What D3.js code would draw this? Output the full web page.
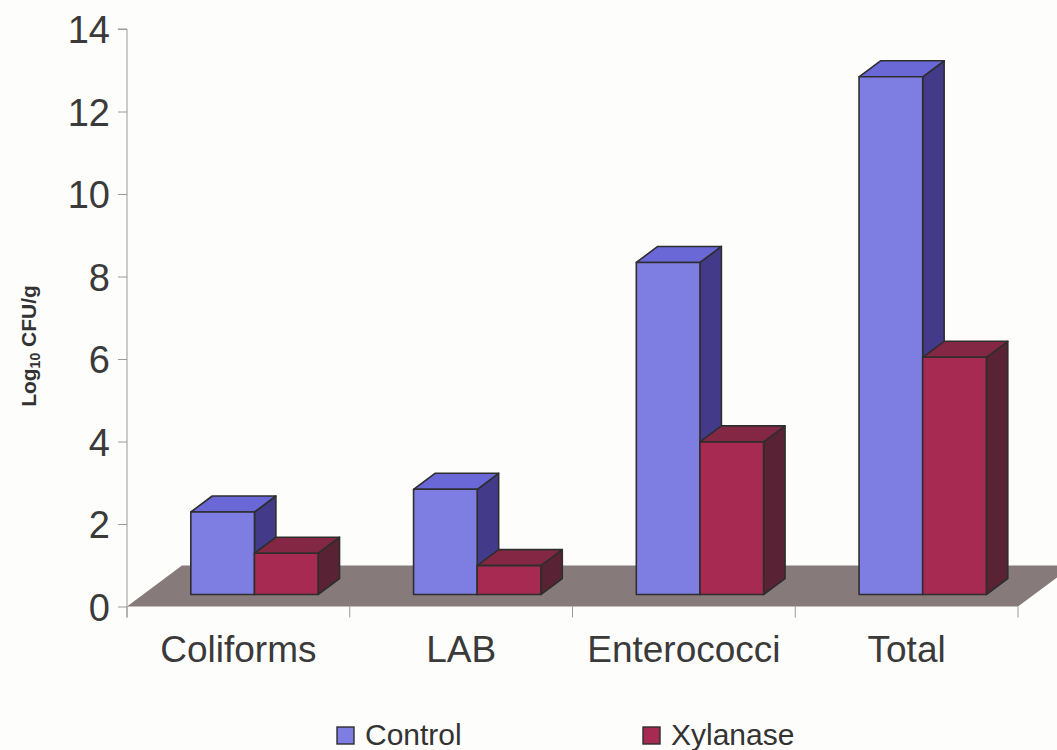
<!DOCTYPE html>
<html>
<head>
<meta charset="utf-8">
<script src="https://cdn.jsdelivr.net/npm/d3@7"></script>
<style>
  html, body { margin: 0; padding: 0; background: #fdfdfb; }
  svg { display: block; font-family: "Liberation Sans", Arial, sans-serif; }
</style>
</head>
<body>
<svg id="chart" width="1057" height="750"></svg>
<script>
// Bacterial counts (log10 CFU/g) by group
const categories = ["Coliforms", "LAB", "Enterococci", "Total"];
const seriesNames = ["Control", "Xylanase"];
const controlValues = [2.0, 2.55, 8.05, 12.55];
const xylanaseValues = [1.0, 0.7, 3.7, 5.75];
const yTicks = [0, 2, 4, 6, 8, 10, 12, 14];

(function draw() {
  const svg = d3.select("#chart");
  const W = 1057, H = 750;

  // plot frame (front plane)
  const plotLeft = 127, plotRight = 1018, plotTop = 29, plotBottom = 606.5;

  // oblique depth: the floor recedes floorDy px up and skew*floorDy px right
  const skew = 1.34;
  const floorDy = 41;
  const barStartDy = 12;   // columns sit this far behind the front edge
  const barDepthDy = 16;   // depth of each column

  const y = d3.scaleLinear().domain([0, 14]).range([plotBottom, plotTop]);
  const x = d3.scaleBand().domain(categories).range([plotLeft, plotRight]).paddingInner(0).paddingOuter(0);
  const bw = x.bandwidth() / 3.5;  // gap width 150%
  const xs = d3.scaleBand().domain(seriesNames).range([0.75 * bw, 2.75 * bw]);

  const palette = {
    Control:  { front: "#7e7ee2", top: "#6a68d6", side: "#433a8a" },
    Xylanase: { front: "#a62a52", top: "#842744", side: "#592235" }
  };

  svg.append("defs").append("clipPath").attr("id", "frame")
    .append("rect").attr("x", 0).attr("y", 0).attr("width", W).attr("height", H);

  // floor
  const fdx = skew * floorDy;
  svg.append("polygon")
    .attr("points", [
      [plotLeft, plotBottom], [plotRight, plotBottom],
      [plotRight + fdx, plotBottom - floorDy], [plotLeft + fdx, plotBottom - floorDy]
    ].map(p => p.join(",")).join(" "))
    .attr("fill", "#877a7a")
    .attr("clip-path", "url(#frame)");

  // y axis
  const yAxis = d3.axisLeft(y).tickValues(yTicks).tickSize(9).tickPadding(8).tickFormat(d3.format("d"));
  const gy = svg.append("g").attr("transform", `translate(${plotLeft},0)`).call(yAxis);
  gy.select(".domain").attr("stroke", "#9a9a9a").attr("d", `M-9,${plotTop}H0V${plotBottom + 11}`);
  gy.selectAll(".tick line").attr("stroke", "#9a9a9a");
  gy.selectAll(".tick text").attr("fill", "#3a3a3a").style("font-size", "38px")
    .attr("dy", "0.36em");

  // category boundary ticks
  const bounds = categories.map(c => x(c)).concat([plotRight]);
  svg.append("g").selectAll("line").data(bounds).join("line")
    .attr("x1", d => d).attr("x2", d => d)
    .attr("y1", plotBottom).attr("y2", plotBottom + 11)
    .attr("stroke", "#9a9a9a");

  // category labels
  svg.append("g").selectAll("text").data(categories).join("text")
    .attr("x", d => x(d) + x.bandwidth() / 2)
    .attr("y", 662)
    .attr("text-anchor", "middle")
    .attr("fill", "#3a3a3a")
    .style("font-size", "37px")
    .text(d => d);

  // columns
  const data = [];
  categories.forEach((c, i) => {
    data.push({ cat: c, series: "Control", value: controlValues[i] });
    data.push({ cat: c, series: "Xylanase", value: xylanaseValues[i] });
  });

  const bdx = skew * barDepthDy;
  const shiftX = skew * barStartDy;
  const baseY = plotBottom - barStartDy;

  const bars = svg.append("g").attr("stroke", "#2e2e2e").attr("stroke-width", 1.6).attr("stroke-linejoin", "round");
  data.forEach(d => {
    const x0 = x(d.cat) + xs(d.series) + shiftX;
    const x1 = x0 + xs.bandwidth();
    const h = y(0) - y(d.value);
    const yt = baseY - h;
    const c = palette[d.series];
    const g = bars.append("g");
    // right side
    g.append("polygon").attr("fill", c.side)
      .attr("points", [[x1, yt], [x1 + bdx, yt - barDepthDy], [x1 + bdx, baseY - barDepthDy], [x1, baseY]].map(p => p.join(",")).join(" "));
    // top
    g.append("polygon").attr("fill", c.top)
      .attr("points", [[x0, yt], [x0 + bdx, yt - barDepthDy], [x1 + bdx, yt - barDepthDy], [x1, yt]].map(p => p.join(",")).join(" "));
    // front
    g.append("rect").attr("fill", c.front)
      .attr("x", x0).attr("y", yt).attr("width", x1 - x0).attr("height", h);
  });

  // y axis title
  const title = svg.append("text")
    .attr("transform", `translate(36,346) rotate(-90)`)
    .attr("text-anchor", "middle")
    .attr("fill", "#333")
    .style("font-size", "21px")
    .style("font-weight", "bold");
  title.append("tspan").text("Log");
  title.append("tspan").text("10").style("font-size", "14px").attr("dy", "0.25em");
  title.append("tspan").text(" CFU/g").attr("dy", "-0.17em");

  // legend
  const legendItems = [
    { name: "Control", x: 337 },
    { name: "Xylanase", x: 643 }
  ];
  const lg = svg.append("g").selectAll("g").data(legendItems).join("g")
    .attr("transform", d => `translate(${d.x},727)`);
  lg.append("rect").attr("width", 17).attr("height", 17)
    .attr("fill", d => palette[d.name].front)
    .attr("stroke", "#2e2e2e").attr("stroke-width", 1.4);
  lg.append("text").attr("x", 28).attr("y", 18)
    .attr("fill", "#333")
    .style("font-size", "30px")
    .text(d => d.name);
})();
</script>
</body>
</html>
